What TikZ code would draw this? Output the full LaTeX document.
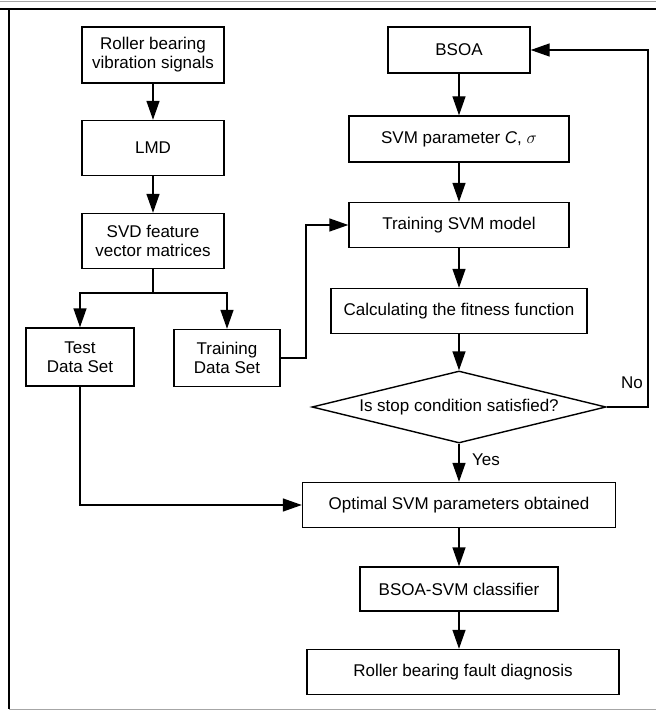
\documentclass[tikz,border=0pt]{standalone}
\usepackage{fontspec}
\setmainfont{Liberation Sans}
\usetikzlibrary{arrows.meta,shapes.geometric}
\tikzset{
  stage/.style={draw, line width=1.4pt, inner sep=0pt, align=center,
    font=\fontsize{17}{19}\selectfont},
  test/.style={stage, diamond, aspect=4},
  flow/.style={line width=1.4pt, -{Triangle[length=19pt,width=13pt]}},
  link/.style={line width=1.4pt}
}
\begin{document}
\begin{tikzpicture}[x=1pt, y=-1pt]
  \useasboundingbox (0,0) rectangle (656,711);
  \draw [gray!70, line width=1.2pt] (0,1.5) -- (656,1.5);
  \draw [line width=2.5pt] (0,9) -- (656,9);
  \draw [line width=2.5pt] (9,9) -- (9,709);
  \draw [gray!70, line width=1.2pt] (9,709.5) -- (656,709.5);

  \node [stage, minimum width=142, minimum height=56] (signals) at (153,55)
    {Roller bearing\\vibration signals};
  \node [stage, minimum width=142, minimum height=55] (lmd) at (153,148) {LMD};
  \node [stage, minimum width=142, minimum height=55] (svd) at (153,241)
    {SVD feature\\vector matrices};
  \node [stage, minimum width=108, minimum height=58] (testset) at (80,357)
    {Test\\Data Set};
  \node [stage, minimum width=106, minimum height=57] (trainset) at (227,358)
    {Training\\Data Set};

  \node [stage, minimum width=142, minimum height=46] (bsoa) at (459,50) {BSOA};
  \node [stage, minimum width=220, minimum height=46] (param) at (459,139)
    {SVM parameter \textit{C}, $\sigma$};
  \node [stage, minimum width=220, minimum height=45] (train) at (459,225)
    {Training SVM model};
  \node [stage, minimum width=256, minimum height=45] (fitness) at (459,311)
    {Calculating the fitness function};
  \node [test, minimum width=294, minimum height=72] (stop) at (459,407)
    {Is stop condition satisfied?};
  \node [stage, minimum width=313, minimum height=45] (optimal) at (459,505)
    {Optimal SVM parameters obtained};
  \node [stage, minimum width=198, minimum height=44] (classifier) at (459,589)
    {BSOA-SVM classifier};
  \node [stage, minimum width=312, minimum height=45] (diagnosis) at (463,672)
    {Roller bearing fault diagnosis};

  \coordinate (split) at (153,293);
  \coordinate (loop) at (648,407);

  \draw [flow] (signals) -- (lmd);
  \draw [flow] (lmd) -- (svd);
  \draw [link] (svd) -- (split);
  \draw [flow] (split) -| (testset);
  \draw [flow] (split) -| (trainset);
  \draw [flow] (trainset.east) -| (306,225) -- (train.west);
  \draw [flow] (testset.south) |- (optimal.west);

  \draw [flow] (bsoa) -- (param);
  \draw [flow] (param) -- (train);
  \draw [flow] (train) -- (fitness);
  \draw [flow] (fitness) -- (stop);
  \draw [flow] (stop.east) -- (loop) |- (bsoa.east);
  \node [font=\fontsize{17}{19}\selectfont] (no) at (632,383) {No};
  \draw [flow] (stop.south) -- (optimal.north)
    node [pos=0.42, right=9pt, font=\fontsize{17}{19}\selectfont] (yes) {Yes};
  \draw [flow] (optimal) -- (classifier);
  \draw [flow] (classifier.south) -- (classifier.south |- diagnosis.north);
\end{tikzpicture}
\end{document}
